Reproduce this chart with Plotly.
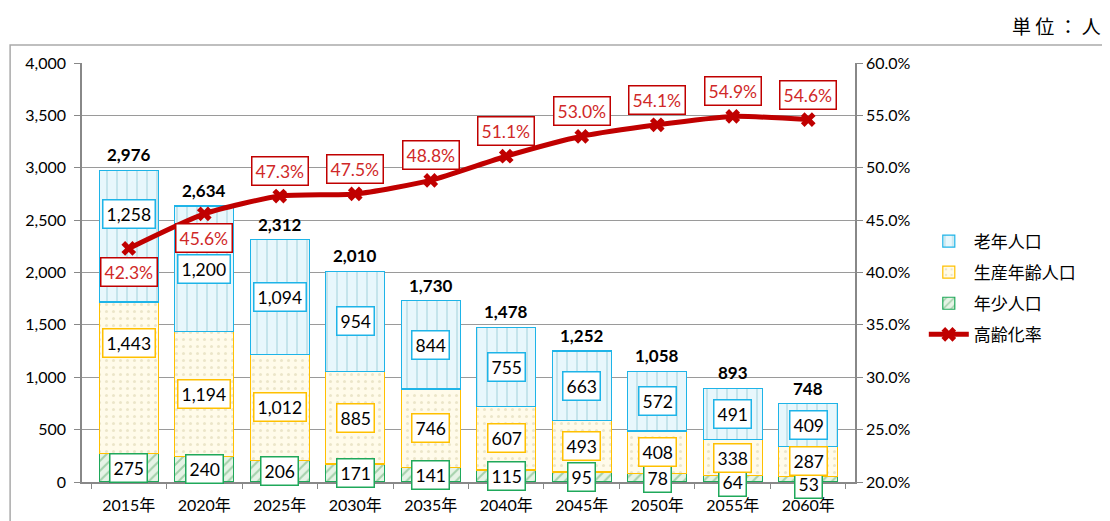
import plotly.graph_objects as go

years = ["2015年", "2020年", "2025年", "2030年", "2035年", "2040年", "2045年", "2050年", "2055年", "2060年"]
young = [275, 240, 206, 171, 141, 115, 95, 78, 64, 53]
working = [1443, 1194, 1012, 885, 746, 607, 493, 408, 338, 287]
elderly = [1258, 1200, 1094, 954, 844, 755, 663, 572, 491, 409]
totals = [2976, 2634, 2312, 2010, 1730, 1478, 1252, 1058, 893, 748]
aging_rate = [0.423, 0.456, 0.473, 0.475, 0.488, 0.511, 0.530, 0.541, 0.549, 0.546]

FONT = "Lato, 'Noto Sans CJK JP', sans-serif"
C_OLD, C_WORK, C_YOUNG, C_LINE = "#1EB4E8", "#FFC000", "#1FA85A", "#C00000"
LBL = 17.5

fig = go.Figure()
fig.add_trace(go.Bar(
    x=years, y=young, name="年少人口", legendrank=3, legendgroup="g3",
    marker=dict(color="#E6F3E6", line=dict(color=C_YOUNG, width=1.2),
                pattern=dict(shape="/", fgcolor="#5FAE6E", size=7, solidity=0.28, fillmode="overlay")),
))
fig.add_trace(go.Bar(
    x=years, y=working, name="生産年齢人口", legendrank=2, legendgroup="g2",
    marker=dict(color="#FFFBEA", line=dict(color=C_WORK, width=1.2),
                pattern=dict(shape=".", fgcolor="#D8CFA8", size=7, solidity=0.15, fillmode="overlay")),
))
fig.add_trace(go.Bar(
    x=years, y=elderly, name="老年人口", legendrank=1, legendgroup="g1",
    marker=dict(color="#E8F7FC", line=dict(color=C_OLD, width=1.2),
                pattern=dict(shape="|", fgcolor="#5AAAB9", size=10, solidity=0.1, fillmode="overlay")),
))
fig.add_trace(go.Scatter(
    x=years, y=aging_rate, name="高齢化率", yaxis="y2", legendrank=4, legendgroup="g4",
    mode="lines+markers", line=dict(color=C_LINE, width=5, shape="spline", smoothing=0.6),
    marker=dict(symbol="x", size=13, color=C_LINE),
))

ann = []
# manual label nudges (pixels), as in the reference
old_shift = {0: 22}
work_shift = {0: 35}
young_shift = {8: -3, 9: -5}
for i, yr in enumerate(years):
    base_w = young[i]
    base_o = young[i] + working[i]
    ann.append(dict(x=yr, y=young[i] / 2, text=f"{young[i]:,}", showarrow=False,
                    yshift=young_shift.get(i, 0),
                    bgcolor="white", bordercolor=C_YOUNG, borderwidth=1.5, borderpad=3,
                    font=dict(size=LBL, color="black", family=FONT)))
    ann.append(dict(x=yr, y=base_w + working[i] / 2, text=f"{working[i]:,}", showarrow=False,
                    yshift=work_shift.get(i, 0),
                    bgcolor="white", bordercolor=C_WORK, borderwidth=1.5, borderpad=3,
                    font=dict(size=LBL, color="black", family=FONT)))
    ann.append(dict(x=yr, y=base_o + elderly[i] / 2, text=f"{elderly[i]:,}", showarrow=False,
                    yshift=old_shift.get(i, 0),
                    bgcolor="white", bordercolor=C_OLD, borderwidth=1.5, borderpad=3,
                    font=dict(size=LBL, color="black", family=FONT)))
    ann.append(dict(x=yr, y=totals[i], text=f"<b>{totals[i]:,}</b>", showarrow=False,
                    yanchor="bottom", yshift=3,
                    font=dict(size=17, color="black", family=FONT)))
    ann.append(dict(x=yr, y=aging_rate[i], yref="y2", text=f"{aging_rate[i]*100:.1f}%",
                    showarrow=False, yshift=(-24 if i < 2 else 25),
                    bgcolor="white", bordercolor=C_LINE, borderwidth=1.5, borderpad=3,
                    font=dict(size=LBL, color="#D02828", family=FONT)))

ann.append(dict(x=1.0, xref="paper", xanchor="right", xshift=248, y=1.09, yref="paper",
                yanchor="middle", text="単 位 ： 人", showarrow=False,
                font=dict(size=19, color="black", family="'Noto Sans CJK JP'")))

fig.update_layout(
    width=1102, height=513,
    margin=dict(l=74, r=255, t=55, b=39),
    paper_bgcolor="white", plot_bgcolor="white",
    barmode="stack", bargap=0.22,
    font=dict(family=FONT, size=16, color="#222"),
    annotations=ann,
    showlegend=True,
    legend=dict(x=1.089, y=0.617, xanchor="left", yanchor="top", traceorder="grouped",
                font=dict(size=17, family="'Noto Sans CJK JP'", color="black"),
                tracegroupgap=6, itemwidth=40, bgcolor="rgba(0,0,0,0)"),
    xaxis=dict(showline=True, linecolor="#888", linewidth=1.5, ticks="outside",
               tickson="boundaries", ticklen=5, tickcolor="#888", ticklabelstandoff=8,
               automargin=False,
               tickfont=dict(size=16, color="black"), showgrid=False),
    yaxis=dict(range=[0, 4000], dtick=500, tickformat=",", showline=True, linecolor="#888",
               linewidth=1.5, ticks="outside", ticklen=6, tickcolor="#888", ticklabelstandoff=5,
               automargin=False,
               gridcolor="#9a9a9a", gridwidth=1, tickfont=dict(size=16, color="black"),
               zeroline=False),
    yaxis2=dict(range=[0.20, 0.60], dtick=0.05, tickformat=".1%", overlaying="y",
                side="right", showline=True, linecolor="#888", linewidth=1.5,
                ticks="outside", ticklen=6, tickcolor="#888", showgrid=False, automargin=False,
                tickfont=dict(size=16, color="black"), zeroline=False),
    shapes=[dict(type="rect", xref="paper", yref="paper", x0=-0.093, x1=1.327,
                 y0=-0.2, y1=1.043, line=dict(color="#aaa", width=1.5), layer="below")],
)

fig.write_html("out.html")
